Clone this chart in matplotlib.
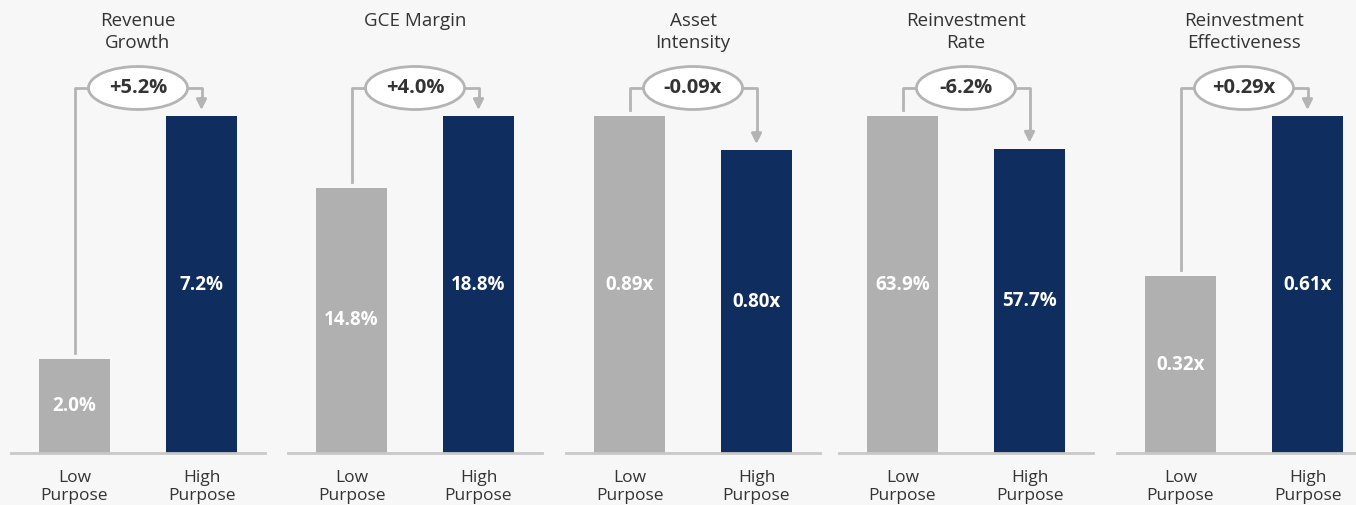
import matplotlib
matplotlib.use("Agg")
import matplotlib.pyplot as plt
from matplotlib.patches import Ellipse
from matplotlib.transforms import blended_transform_factory

plt.rcParams["font.family"] = ["Open Sans", "DejaVu Sans"]

titles = ["Revenue\nGrowth", "GCE Margin", "Asset\nIntensity", "Reinvestment\nRate", "Reinvestment\nEffectiveness"]
low_values = [2.0, 14.8, 0.89, 63.9, 0.32]
high_values = [7.2, 18.8, 0.80, 57.7, 0.61]
low_labels = ["2.0%", "14.8%", "0.89x", "63.9%", "0.32x"]
high_labels = ["7.2%", "18.8%", "0.80x", "57.7%", "0.61x"]
delta_labels = ["+5.2%", "+4.0%", "-0.09x", "-6.2%", "+0.29x"]
categories = ["Low\nPurpose", "High\nPurpose"]

W, H = 1356, 505
BG = "#f7f7f7"
GREY = "#b0b0b0"
NAVY = "#0f2d5f"
LINE = "#b4b4b4"
TEXT = "#333333"

fig = plt.figure(figsize=(W / 100, H / 100), dpi=100, facecolor=BG)

panel_lefts = [11, 288, 566, 839, 1117]
ax_bottom, ax_height, ax_width = 52, 337, 254
bracket_y = (417 - ax_bottom) / ax_height
gap = 6 / ax_height
head = 10 / ax_height

for i, left in enumerate(panel_lefts):
    ax = fig.add_axes([left / W, ax_bottom / H, ax_width / W, ax_height / H])
    ax.set_facecolor(BG)
    vmax = max(low_values[i], high_values[i])
    ax.set_xlim(-0.5, 1.5)
    ax.set_ylim(0, vmax)
    ax.bar([0, 1], [low_values[i], high_values[i]], width=0.56, color=[GREY, NAVY], zorder=2)
    ax.axhline(0, color="#c8c8c8", lw=2, zorder=3, clip_on=False)
    for s in ax.spines.values():
        s.set_visible(False)
    ax.set_yticks([])
    ax.set_xticks([0, 1])
    ax.set_xticklabels(categories, fontsize=12.5, color=TEXT, linespacing=1.2)
    ax.tick_params(axis="x", length=0, pad=12)

    for x, v, lab in zip([0, 1], [low_values[i], high_values[i]], [low_labels[i], high_labels[i]]):
        ax.text(x, v / 2, lab, ha="center", va="center", color="white", fontsize=13.5,
                fontweight="bold", zorder=4)

    tr = blended_transform_factory(ax.transData, ax.transAxes)
    low_top = low_values[i] / vmax
    high_top = high_values[i] / vmax
    ell_w, ell_h = 0.78, 43 / ax_height

    # bracket: up from the low bar, across, then down onto the high bar
    ax.plot([0, 0, 0.5 - ell_w / 2], [low_top + gap, bracket_y, bracket_y], color=LINE, lw=2,
            transform=tr, clip_on=False, zorder=1)
    ax.plot([0.5 + ell_w / 2, 1, 1], [bracket_y, bracket_y, high_top + gap + head * 0.8], color=LINE, lw=2,
            transform=tr, clip_on=False, zorder=1)
    ax.annotate("", xy=(1, high_top + gap), xytext=(1, high_top + gap + head * 1.2), xycoords=tr, textcoords=tr,
                arrowprops=dict(arrowstyle="-|>,head_length=0.6,head_width=0.3", color=LINE, lw=2,
                                shrinkA=0, shrinkB=0), annotation_clip=False)
    ell = Ellipse((0.5, bracket_y), ell_w, ell_h, transform=tr, facecolor="white", edgecolor=LINE,
                  lw=2, clip_on=False, zorder=5)
    ax.add_patch(ell)
    ax.text(0.5, bracket_y, delta_labels[i], transform=tr, ha="center", va="center", fontsize=14.5,
            fontweight="bold", color=TEXT, zorder=6)

    ax.text(0.5, (H - 12) / H, titles[i], transform=blended_transform_factory(ax.transData, fig.transFigure),
            ha="center", va="top", fontsize=13.5, color=TEXT, linespacing=1.28)

fig.savefig("out.png", dpi=100, facecolor=BG)
